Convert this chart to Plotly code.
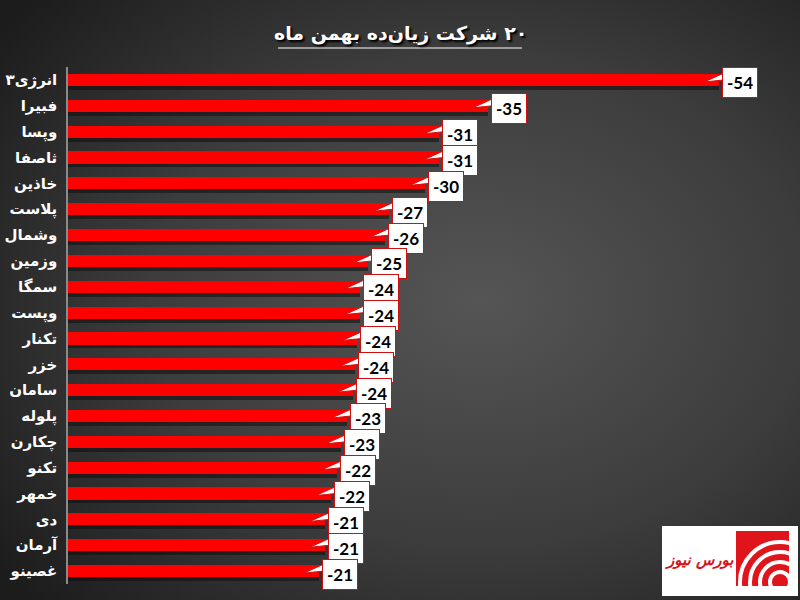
import plotly.graph_objects as go
import base64

# ---- data ----
companies = ["انرژی۳", "فبیرا", "وپسا", "ثاصفا", "خاذین", "پلاست", "وشمال", "وزمین", "سمگا", "وپست",
             "تکنار", "خزر", "سامان", "پلوله", "چکارن", "تکنو", "خمهر", "دی", "آرمان", "غصینو"]
losses = [-54.0, -34.8, -30.8, -30.8, -29.6, -26.6, -26.3, -24.9, -24.2, -24.2,
          -24.0, -23.8, -23.6, -23.1, -22.6, -22.3, -21.8, -21.3, -21.3, -20.8]
value_labels = [str(int(round(v))) for v in losses]
title_text = "\u200f۲۰ شرکت زیان‌ده بهمن ماه"
logo_text = "بورس نیوز"

W, H = 800, 600
ML, MR, MT, MB = 68, 10, 67, 16
PW, PH = W - ML - MR, H - MT - MB

pos = list(range(len(companies)))

# background radial gradient as svg image
bg_svg = f'''<svg xmlns="http://www.w3.org/2000/svg" width="{W}" height="{H}" viewBox="0 0 {W} {H}" preserveAspectRatio="none">
<defs><radialGradient id="g" cx="0.6" cy="0.5" r="0.75">
<stop offset="0" stop-color="#555555"/><stop offset="0.55" stop-color="#3c3c3c"/><stop offset="1" stop-color="#1c1c1c"/>
</radialGradient></defs><rect width="{W}" height="{H}" fill="url(#g)"/></svg>'''
bg_uri = "data:image/svg+xml;base64," + base64.b64encode(bg_svg.encode()).decode()

logo_svg = '''<svg xmlns="http://www.w3.org/2000/svg" width="136" height="70" viewBox="0 0 136 70">
<defs><clipPath id="c"><rect x="74" y="5" width="53" height="55"/></clipPath></defs>
<rect x="0" y="0" width="136" height="70" fill="#ffffff"/>
<rect x="74" y="5" width="53" height="55" fill="#e0141b"/>
<g clip-path="url(#c)" fill="none" stroke="#ffffff" stroke-width="4">
<circle cx="118" cy="56" r="10"/><circle cx="118" cy="56" r="20"/><circle cx="118" cy="56" r="30"/><circle cx="118" cy="56" r="40"/>
</g></svg>'''
logo_uri = "data:image/svg+xml;base64," + base64.b64encode(logo_svg.encode()).decode()

def px_x(p):
    return (p - ML) / PW

def px_y(p):
    return 1 - (p - MT) / PH

fig = go.Figure()

# shadow bars
fig.add_trace(go.Bar(
    x=losses, y=[p + 0.15 for p in pos], orientation="h", width=0.47,
    marker=dict(color="rgba(15,15,15,0.55)", line=dict(width=0)),
    hoverinfo="skip", showlegend=False))
# main bars
fig.add_trace(go.Bar(
    x=losses, y=pos, orientation="h", width=0.47,
    marker=dict(color="#ff0000", line=dict(width=0)),
    showlegend=False))

shapes = []
annotations = []
for v, p, lab in zip(losses, pos, value_labels):
    # box shadow
    shapes.append(dict(
        type="rect", xref="x", yref="y", xsizemode="pixel", ysizemode="pixel",
        xanchor=v, yanchor=p, x0=5, x1=36, y0=-18, y1=9,
        fillcolor="rgba(0,0,0,0.3)", line=dict(width=0), layer="above"))
    # callout pointer
    shapes.append(dict(
        type="path", xref="x", yref="y", xsizemode="pixel", ysizemode="pixel",
        xanchor=v, yanchor=p, path="M 5,7 L -15,-2 L 5,0 Z",
        fillcolor="#ffffff", line=dict(color="#d01010", width=1), layer="above"))
    annotations.append(dict(
        x=v, y=p, xref="x", yref="y", xanchor="left", yanchor="middle",
        xshift=3, yshift=-3, showarrow=False, text=lab,
        font=dict(family="Lato", size=17, color="#000000", weight="bold"),
        bgcolor="#ffffff", borderpad=4, borderwidth=1, bordercolor="#d01010"))

# title
annotations.append(dict(
    x=px_x(400), y=px_y(33), xref="paper", yref="paper", showarrow=False,
    text=title_text, xanchor="center", yanchor="middle",
    font=dict(family="DejaVu Sans", size=19, color="#ffffff", weight="bold",
              shadow="2px 2px 2px #000000")))
# title underline
shapes.append(dict(type="line", xref="paper", yref="paper",
                   x0=px_x(278), x1=px_x(522), y0=px_y(48), y1=px_y(48),
                   line=dict(color="#bdbdbd", width=1.5)))

# logo text
annotations.append(dict(
    x=px_x(699), y=px_y(560), xref="paper", yref="paper", showarrow=False,
    text=logo_text, xanchor="center", yanchor="middle",
    font=dict(family="DejaVu Sans", size=15, color="#d8141b", weight="bold", style="italic")))

fig.update_layout(
    width=W, height=H,
    margin=dict(l=ML, r=MR, t=MT, b=MB, pad=0),
    paper_bgcolor="#333333", plot_bgcolor="rgba(0,0,0,0)",
    barmode="overlay", bargap=0,
    xaxis=dict(range=[0, -PW / 12.06], visible=False, fixedrange=True),
    yaxis=dict(range=[len(pos) - 0.5, -0.5], tickmode="array", tickvals=pos, ticktext=companies,
               showgrid=False, zeroline=False, showline=True, linecolor="#8a8a8a", linewidth=1.5,
               ticks="", ticklabelstandoff=6, automargin=False, fixedrange=True,
               tickfont=dict(family="DejaVu Sans", size=15, color="#ffffff", weight="bold")),
    images=[
        dict(source=bg_uri, xref="paper", yref="paper", x=-ML / PW, y=1 + MT / PH,
             sizex=W / PW, sizey=H / PH, sizing="stretch", layer="below", xanchor="left", yanchor="top"),
        dict(source=logo_uri, xref="paper", yref="paper", x=px_x(662), y=px_y(526),
             sizex=136 / PW, sizey=70 / PH, sizing="stretch", layer="below", xanchor="left", yanchor="top"),
    ],
    shapes=shapes, annotations=annotations,
)

fig.write_html("out.html", config={"displayModeBar": False},
               post_script="document.body.style.margin='0';document.body.style.overflow='hidden';")
